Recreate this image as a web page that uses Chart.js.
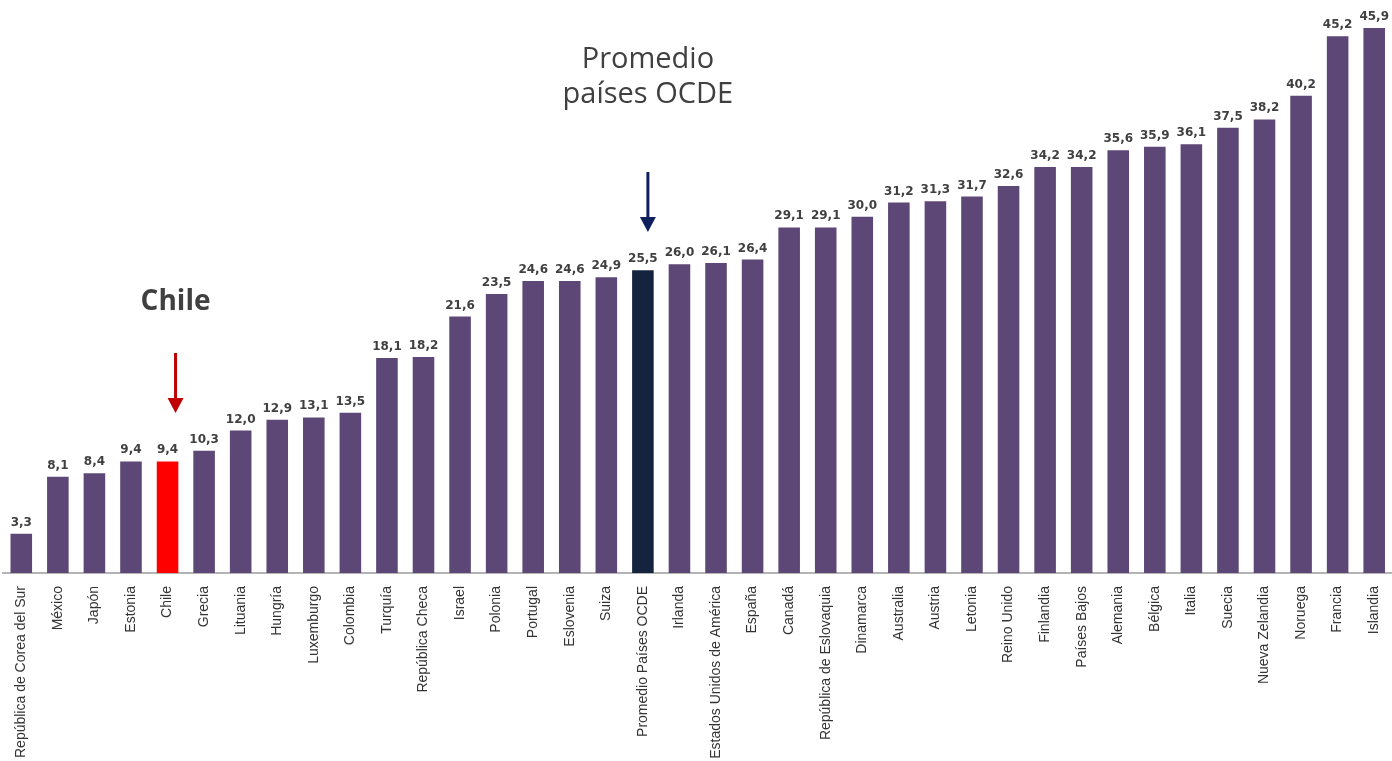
<!DOCTYPE html>
<html>
<head>
<meta charset="utf-8">
<script src="https://cdn.jsdelivr.net/npm/chart.js@4/dist/chart.umd.min.js"></script>
<style>
  html, body { margin: 0; padding: 0; background: #fff; overflow: hidden; }
  #wrap { width: 1404px; height: 761px; position: relative; }
</style>
</head>
<body>
<div id="wrap"><canvas id="chart"></canvas></div>
<script>
const categories = [
    'República de Corea del Sur', 'México', 'Japón', 'Estonia', 'Chile', 'Grecia',
    'Lituania', 'Hungría', 'Luxemburgo', 'Colombia', 'Turquía', 'República Checa',
    'Israel', 'Polonia', 'Portugal', 'Eslovenia', 'Suiza', 'Promedio Países OCDE',
    'Irlanda', 'Estados Unidos de América', 'España', 'Canadá', 'República de Eslovaquia',
    'Dinamarca', 'Australia', 'Austria', 'Letonia', 'Reino Unido', 'Finlandia',
    'Países Bajos', 'Alemania', 'Bélgica', 'Italia', 'Suecia', 'Nueva Zelandia',
    'Noruega', 'Francia', 'Islandia'
];
const values = [
    3.3, 8.1, 8.4, 9.4, 9.4, 10.3,
    12.0, 12.9, 13.1, 13.5, 18.1, 18.2,
    21.6, 23.5, 24.6, 24.6, 24.9, 25.5,
    26.0, 26.1, 26.4, 29.1, 29.1,
    30.0, 31.2, 31.3, 31.7, 32.6, 34.2,
    34.2, 35.6, 35.9, 36.1, 37.5, 38.2,
    40.2, 45.2, 45.9
];
const chileLabel = 'Chile';
const oecdLabel = 'Promedio Países OCDE';

const barColor = '#5d4777';
const chileColor = '#ff0000';
const oecdColor = '#14243f';

const colors = categories.map(c =>
    c === chileLabel ? chileColor : (c === oecdLabel ? oecdColor : barColor));

// value labels above bars, decimal comma
const valueLabels = {
    id: 'valueLabels',
    afterDatasetsDraw(chart) {
        const ctx = chart.ctx;
        const meta = chart.getDatasetMeta(0);
        ctx.save();
        ctx.font = 'bold 12px "DejaVu Sans"';
        ctx.fillStyle = '#404040';
        ctx.textAlign = 'center';
        ctx.textBaseline = 'alphabetic';
        meta.data.forEach((bar, i) => {
            ctx.fillText(values[i].toFixed(1).replace('.', ','), bar.x, bar.y - 8);
        });
        ctx.restore();
    }
};

function arrow(ctx, x, y1, y2, color) {
    ctx.save();
    ctx.strokeStyle = color;
    ctx.fillStyle = color;
    ctx.lineWidth = 3;
    ctx.beginPath();
    ctx.moveTo(x, y1);
    ctx.lineTo(x, y2 - 12);
    ctx.stroke();
    ctx.beginPath();
    ctx.moveTo(x - 8, y2 - 15);
    ctx.lineTo(x + 8, y2 - 15);
    ctx.lineTo(x, y2);
    ctx.closePath();
    ctx.fill();
    ctx.restore();
}

const callouts = {
    id: 'callouts',
    afterDraw(chart) {
        const ctx = chart.ctx;
        const xs = chart.scales.x;
        // callouts sit slightly right of the bar centres in the original
        const xc = xs.getPixelForValue(categories.indexOf(chileLabel)) + 8;
        const xo = xs.getPixelForValue(categories.indexOf(oecdLabel)) + 5;
        ctx.save();
        ctx.textAlign = 'center';
        ctx.textBaseline = 'middle';
        ctx.fillStyle = '#404040';
        ctx.font = 'bold 28px "Open Sans"';
        ctx.fillText('Chile', xc, 302);
        ctx.font = '29px "Open Sans"';
        ctx.fillText('Promedio', xo, 60);
        ctx.fillText('países OCDE', xo, 95);
        ctx.restore();
        arrow(ctx, xc, 353, 413, '#c00000');
        arrow(ctx, xo, 172, 232, '#0f1f5c');
    }
};

new Chart(document.getElementById('chart').getContext('2d'), {
    type: 'bar',
    data: {
        labels: categories,
        datasets: [{
            data: values,
            backgroundColor: colors,
            borderWidth: 0,
            categoryPercentage: 1,
            barPercentage: 0.59
        }]
    },
    options: {
        responsive: true,
        maintainAspectRatio: false,
        animation: false,
        layout: { padding: { top: 3, left: 3, right: 0, bottom: 0 } },
        scales: {
            x: {
                grid: { display: false, drawTicks: false },
                border: { display: true, color: '#b4b4b4', width: 2 },
                ticks: {
                    autoSkip: false,
                    minRotation: 90,
                    maxRotation: 90,
                    padding: 13,
                    color: '#333333',
                    font: { family: '"Liberation Sans", Arial', size: 14 }
                },
                afterFit(scale) { scale.height = 188; }
            },
            y: {
                display: false,
                min: 0,
                max: 48
            }
        },
        plugins: {
            legend: { display: false },
            tooltip: { enabled: false }
        }
    },
    plugins: [valueLabels, callouts]
});
</script>
</body>
</html>
